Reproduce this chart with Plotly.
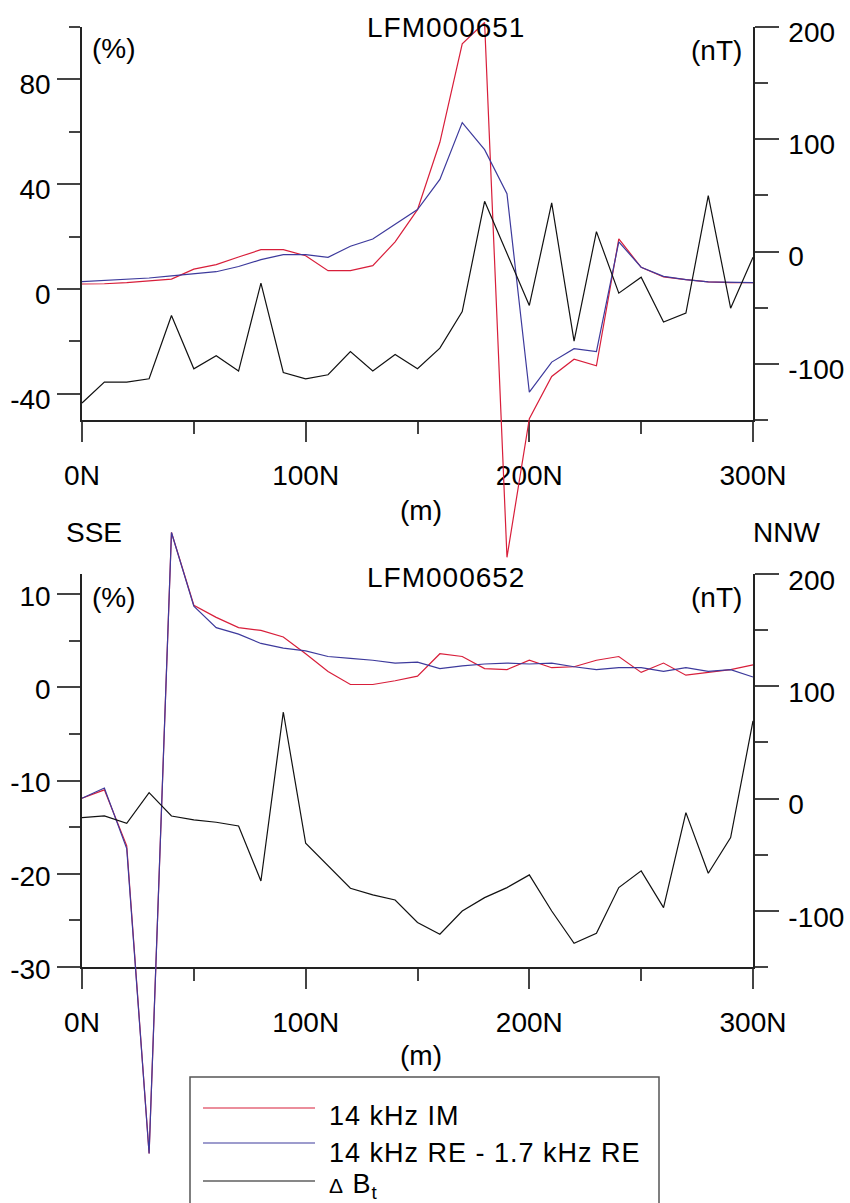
import plotly.graph_objects as go

W, H = 850, 1203

# ---------------- data ----------------
distance = list(range(0, 301, 10))
x_tickvals = [0, 100, 200, 300]
x_ticktext = ["0N", "100N", "200N", "300N"]

top_left_ticks = [-40, 0, 40, 80]
bot_left_ticks = [-30, -20, -10, 0, 10]
right_ticks = [-100, 0, 100, 200]

top_im = [1.9, 2.0, 2.4, 3.2, 3.8, 7.6, 9.3, 12.2, 15.0, 15.0, 12.7, 7.0, 7.0, 8.9, 18.0, 30.3,
          56.0, 93.6, 101.7, -102.4, -49.5, -33.4, -26.8, -29.3, 19.1, 8.3, 4.6, 3.6, 2.7, 2.4, 2.4]
top_re = [2.8, 3.2, 3.7, 4.2, 5.0, 5.7, 6.6, 8.6, 11.2, 13.1, 13.1, 12.1, 16.3, 19.1, 24.8, 30.3,
          41.8, 63.5, 53.2, 36.4, -39.4, -27.9, -22.8, -23.9, 18.0, 8.3, 4.8, 3.6, 2.7, 2.6, 2.4]
top_dbt = [-134.9, -116.2, -116.2, -113.3, -56.9, -104.4, -92.8, -106.4, -28.1, -107.7, -113.3,
           -109.7, -89.0, -106.4, -91.6, -104.4, -86.0, -53.4, 44.8, -2.0, -48.0, 43.3, -79.7,
           17.8, -37.0, -22.8, -62.8, -54.8, 49.8, -50.4, -5.0]

bot_im = [-11.9, -11.0, -17.0, -50.0, 16.6, 8.8, 7.5, 6.4, 6.1, 5.4, 3.6, 1.7, 0.3, 0.3, 0.7, 1.2,
          3.6, 3.3, 2.0, 1.9, 2.9, 2.1, 2.2, 2.9, 3.3, 1.6, 2.6, 1.3, 1.6, 1.9, 2.4]
bot_re = [-11.9, -10.8, -17.3, -50.0, 16.6, 8.7, 6.4, 5.7, 4.7, 4.2, 3.9, 3.3, 3.1, 2.9, 2.6, 2.7,
          2.0, 2.3, 2.5, 2.6, 2.5, 2.6, 2.2, 1.9, 2.1, 2.1, 1.7, 2.1, 1.7, 1.9, 1.1]
bot_dbt = [-16.9, -15.5, -22.0, 5.3, -15.5, -19.0, -21.1, -24.4, -73.4, 77.1, -39.8, -60.0, -79.9,
           -85.8, -90.3, -110.4, -120.8, -100.1, -88.2, -79.3, -68.0, -100.1, -128.9, -119.9,
           -79.3, -64.4, -97.1, -12.5, -66.5, -34.7, 69.1]

series_names = ["14 kHz IM", "14 kHz RE - 1.7 kHz RE",
                "<span style=\"font-size:21px\">Δ</span> B<sub>t</sub>"]
series_colors = ["#d81e3a", "#3d3a9c", "#111111"]

# ---------------- layout geometry ----------------
FONT = "Liberation Sans"
xd = [82 / W, 753 / W]
y1d = [1 - 420 / H, 1 - 27 / H]
y2d = [1 - 967 / H, 1 - 574 / H]

top_left_range = [-50, 100]
top_right_range = [-150, 200]
bot_left_range = [-30, 12.15]
bot_right_range = [-150, 200]


def ext(r, d):
    s = (r[1] - r[0]) / (d[1] - d[0])
    return [r[0] - d[0] * s, r[1] + (1 - d[1]) * s]


def py(px):
    return 1 - px / H


def pxx(px):
    return px / W


def lbl(v):
    return str(v).replace("\u2212", "-")


def spaced(t, px):
    return f"<span style=\"letter-spacing:{px}px\">{t}</span>"


fig = go.Figure()

# placeholder traces so the visible axis frames are created
for xa, ya in [("x", "y"), ("x", "y2"), ("x2", "y3"), ("x2", "y4")]:
    fig.add_trace(go.Scatter(x=[None], y=[None], mode="lines", xaxis=xa, yaxis=ya,
                             showlegend=False, hoverinfo="skip"))

for xa, ya_l, ya_r, im, re, dbt in [("x3", "y5", "y6", top_im, top_re, top_dbt),
                                     ("x4", "y7", "y8", bot_im, bot_re, bot_dbt)]:
    fig.add_trace(go.Scatter(x=distance, y=im, mode="lines", xaxis=xa, yaxis=ya_l,
                             line=dict(color=series_colors[0], width=1.2), showlegend=False,
                             name="14 kHz IM"))
    fig.add_trace(go.Scatter(x=distance, y=re, mode="lines", xaxis=xa, yaxis=ya_l,
                             line=dict(color=series_colors[1], width=1.2), showlegend=False,
                             name="14 kHz RE - 1.7 kHz RE"))
    fig.add_trace(go.Scatter(x=distance, y=dbt, mode="lines", xaxis=xa, yaxis=ya_r,
                             line=dict(color=series_colors[2], width=1.2), showlegend=False,
                             name="ΔBt"))

tickfont = dict(family=FONT, size=28, color="black")
common = dict(showline=True, linecolor="#222", linewidth=1.5, ticks="outside",
              tickcolor="#444", tickwidth=1.5, showgrid=False, zeroline=False,
              tickfont=tickfont, fixedrange=True, automargin=False)
minor_common = dict(ticks="outside", tickcolor="#444", tickwidth=1.5)


def xaxis_vis(anchor):
    return dict(common, domain=xd, anchor=anchor, range=[0, 300], tickmode="array",
                tickvals=x_tickvals, ticktext=x_ticktext, ticklen=20, ticklabelstandoff=10,
                minor=dict(minor_common, tickmode="array", tickvals=[50, 150, 250], ticklen=12))


def yleft(dom, rng, ticks, dt, anchor, shift):
    return dict(common, domain=dom, anchor=anchor, range=rng, tickmode="array",
                tickvals=ticks, ticktext=[lbl(t) for t in ticks], ticklen=23,
                ticklabelstandoff=1, ticklabelshift=shift,
                minor=dict(minor_common, tick0=0, dtick=dt / 2, ticklen=11))


def yright(over, rng, anchor, shift):
    return dict(common, overlaying=over, side="right", anchor=anchor, range=rng,
                tickmode="array", tickvals=right_ticks, ticktext=[lbl(t) for t in right_ticks],
                ticklen=24, ticklabelstandoff=4, ticklabelshift=shift,
                minor=dict(minor_common, tick0=0, dtick=50, ticklen=13))


hidden = dict(visible=False, fixedrange=True, showgrid=False, zeroline=False)

fig.update_layout(
    width=W, height=H, margin=dict(l=0, r=0, t=0, b=0),
    paper_bgcolor="white", plot_bgcolor="rgba(0,0,0,0)",
    showlegend=False,
    xaxis=xaxis_vis("y"),
    yaxis=yleft(y1d, top_left_range, top_left_ticks, 40, "x", 5),
    yaxis2=yright("y", top_right_range, "x", 5),
    xaxis2=xaxis_vis("y3"),
    yaxis3=yleft(y2d, bot_left_range, bot_left_ticks, 10, "x2", 2),
    yaxis4=yright("y3", bot_right_range, "x2", 6),
    xaxis3=dict(hidden, domain=[0, 1], range=ext([0, 300], xd), anchor="y5"),
    yaxis5=dict(hidden, domain=[0, 1], range=ext(top_left_range, y1d), anchor="x3"),
    yaxis6=dict(hidden, overlaying="y5", range=ext(top_right_range, y1d), anchor="x3"),
    xaxis4=dict(hidden, domain=[0, 1], range=ext([0, 300], xd), anchor="y7"),
    yaxis7=dict(hidden, domain=[0, 1], range=ext(bot_left_range, y2d), anchor="x4"),
    yaxis8=dict(hidden, overlaying="y7", range=ext(bot_right_range, y2d), anchor="x4"),
)

ann_font = dict(family=FONT, size=28, color="black")
texts = [
    (spaced("LFM000651", 1), 446, 28, "center"),
    (spaced("LFM000652", 1), 446, 577, "center"),
    ("(%)", 114, 49, "center"),
    ("(nT)", 716, 50, "center"),
    ("(%)", 114, 597, "center"),
    ("(nT)", 716, 597, "center"),
    ("(m)", 421, 510, "center"),
    ("(m)", 421, 1055, "center"),
    ("SSE", 94, 532, "center"),
    ("NNW", 786, 532, "center"),
]
for t, x, y, al in texts:
    fig.add_annotation(text=t, x=pxx(x), y=py(y), xref="paper", yref="paper",
                       xanchor=al, yanchor="middle", showarrow=False, font=ann_font)

# manual legend
leg_font = dict(family=FONT, size=27, color="black")
fig.add_shape(type="rect", xref="paper", yref="paper", x0=pxx(190), x1=pxx(659),
              y0=py(1260), y1=py(1077), line=dict(color="#555", width=1.5))
for name, col, ly, ty in zip(series_names, series_colors, [1108, 1143, 1181], [1116, 1153, 1186]):
    fig.add_shape(type="line", xref="paper", yref="paper", x0=pxx(203), x1=pxx(315),
                  y0=py(ly), y1=py(ly), line=dict(color=col, width=1.2))
    fig.add_annotation(text=spaced(name, 1), x=pxx(327), y=py(ty), xref="paper", yref="paper",
                       xanchor="left", yanchor="middle", showarrow=False, font=leg_font)

fig.write_html("out.html")
